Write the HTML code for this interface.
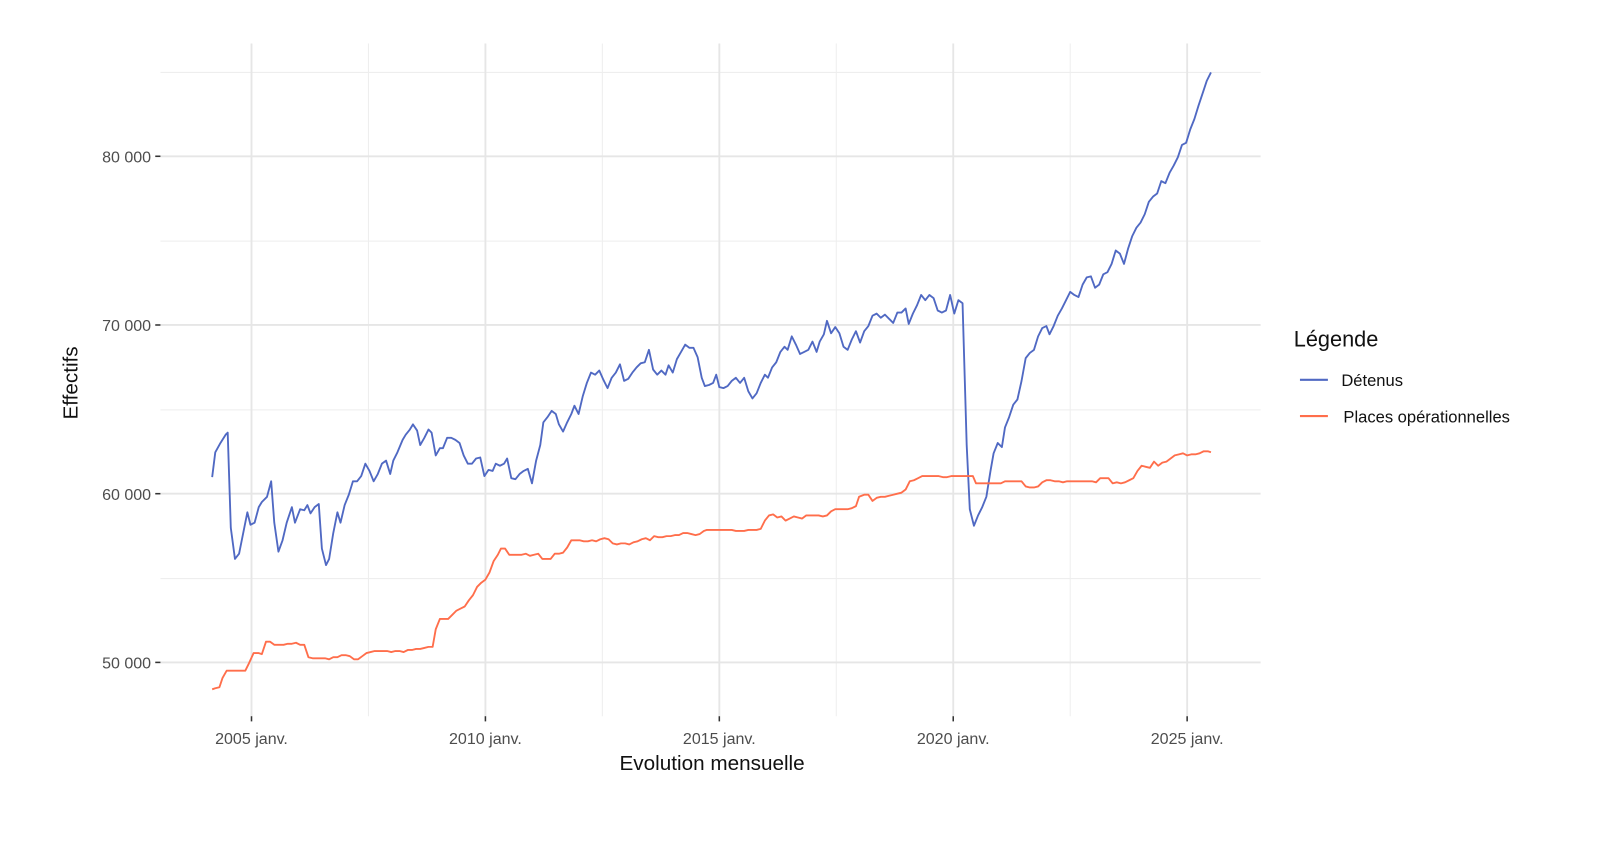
<!DOCTYPE html>
<html><head><meta charset="utf-8"><style>
html,body{margin:0;padding:0;background:#fff;}
svg{display:block;font-family:"Liberation Sans",sans-serif;}
</style></head><body>
<svg width="1622" height="857" viewBox="0 0 1622 857" xmlns="http://www.w3.org/2000/svg">
<g transform="scale(1.035,1.035)">
<g stroke="#eeeeee" stroke-width="1">
<line x1="155" x2="1218" y1="70" y2="70"/><line x1="155" x2="1218" y1="233" y2="233"/>
<line x1="155" x2="1218" y1="396" y2="396"/><line x1="155" x2="1218" y1="559" y2="559"/>
<line x1="356" x2="356" y1="42" y2="692"/><line x1="582" x2="582" y1="42" y2="692"/>
<line x1="808" x2="808" y1="42" y2="692"/><line x1="1034" x2="1034" y1="42" y2="692"/>
</g>
<g stroke="#e6e6e6" stroke-width="1.8">
<line x1="155" x2="1218" y1="151" y2="151"/><line x1="155" x2="1218" y1="314" y2="314"/>
<line x1="155" x2="1218" y1="477" y2="477"/><line x1="155" x2="1218" y1="640" y2="640"/>
<line x1="243" x2="243" y1="42" y2="692"/><line x1="469" x2="469" y1="42" y2="692"/>
<line x1="695" x2="695" y1="42" y2="692"/><line x1="921" x2="921" y1="42" y2="692"/>
<line x1="1147" x2="1147" y1="42" y2="692"/>
</g>
<g stroke="#333" stroke-width="1.5">
<line x1="150" x2="155" y1="151" y2="151"/><line x1="150" x2="155" y1="314" y2="314"/>
<line x1="150" x2="155" y1="477" y2="477"/><line x1="150" x2="155" y1="640" y2="640"/>
<line x1="243" x2="243" y1="692" y2="697"/><line x1="469" x2="469" y1="692" y2="697"/>
<line x1="695" x2="695" y1="692" y2="697"/><line x1="921" x2="921" y1="692" y2="697"/>
<line x1="1147" x2="1147" y1="692" y2="697"/>
</g>
<g fill="#4d4d4d" font-size="15.5" text-anchor="end">
<text x="146" y="157">80 000</text><text x="146" y="320">70 000</text>
<text x="146" y="483">60 000</text><text x="146" y="646">50 000</text>
</g>
<g fill="#4d4d4d" font-size="15.5" text-anchor="middle">
<text x="243" y="719">2005 janv.</text><text x="469" y="719">2010 janv.</text>
<text x="695" y="719">2015 janv.</text><text x="921" y="719">2020 janv.</text>
<text x="1147" y="719">2025 janv.</text>
</g>
<text x="688" y="744" font-size="20" text-anchor="middle" fill="#111">Evolution mensuelle</text>
<text transform="translate(75,370) rotate(-90)" font-size="20" text-anchor="middle" fill="#111">Effectifs</text>
<text x="1250" y="335" font-size="21" fill="#111">Légende</text>
<line x1="1256" x2="1283" y1="367" y2="367" stroke="#5069c3" stroke-width="2"/>
<text x="1296" y="373" font-size="16" fill="#111">Détenus</text>
<line x1="1256" x2="1283" y1="402" y2="402" stroke="#ff6e4b" stroke-width="2"/>
<text x="1298" y="408" font-size="16" fill="#111">Places opérationnelles</text>
<polyline fill="none" stroke="#5069c3" stroke-width="1.8" stroke-linejoin="round" points="205,461 208,437 213,428 218,420 220,418 223,510 227,540 231,535 236,510 239,495 242,507 246,505 250,490 253,485 258,480 262,465 265,505 269,533 273,522 277,505 282,490 285,505 290,492 294,493 297,488 300,496 304,490 308,487 311,530 315,546 318,540 322,515 326,495 329,505 333,488 337,478 341,465 345,465 349,460 353,448 357,455 361,465 365,458 369,448 373,445 377,458 380,445 384,437 389,425 392,420 396,415 399,410 403,416 406,430 410,423 414,415 417,418 421,440 425,433 428,433 432,423 436,423 440,425 444,428 448,440 452,448 456,448 460,443 464,442 468,460 472,454 476,455 479,448 483,450 487,448 490,443 494,462 498,463 502,458 506,455 510,453 514,467 518,445 522,430 525,408 529,403 533,397 537,400 540,410 544,417 548,408 552,400 555,392 559,400 563,383 567,370 571,360 575,362 579,358 583,367 587,375 591,365 595,360 599,352 603,368 607,366 611,360 615,355 619,351 623,350 627,338 631,357 635,362 639,358 643,362 646,353 650,360 654,347 658,340 662,333 666,336 670,336 674,345 678,365 681,373 685,372 689,370 692,362 695,374 699,375 703,373 707,368 711,365 715,370 719,365 723,378 727,385 731,380 735,370 739,362 742,365 746,355 750,350 754,340 758,335 761,338 765,325 769,333 773,342 777,340 781,338 785,330 789,340 792,330 796,323 799,310 803,322 807,316 811,322 815,335 819,338 823,328 827,320 831,331 835,320 839,315 843,305 847,303 851,307 855,304 859,308 863,312 867,302 871,302 875,298 878,313 882,303 886,295 890,285 894,290 898,285 902,288 906,300 910,302 914,300 918,285 922,303 926,290 930,293 934,430 937,492 941,508 945,498 949,490 953,480 957,455 960,438 964,428 968,432 971,413 975,403 979,391 983,386 987,368 991,346 995,341 999,338 1003,325 1007,317 1011,315 1014,323 1018,315 1022,305 1026,298 1030,290 1034,282 1038,285 1042,287 1046,275 1050,268 1054,267 1058,278 1062,275 1066,265 1070,263 1074,255 1078,242 1082,245 1086,255 1090,240 1094,228 1098,220 1102,215 1106,207 1110,195 1114,190 1118,187 1122,175 1126,177 1130,167 1134,160 1138,152 1142,140 1146,138 1150,125 1154,115 1158,102 1162,90 1166,78 1170,70"/>
<polyline fill="none" stroke="#ff6e4b" stroke-width="1.8" stroke-linejoin="round" points="205,666 208,665 212,664 215,655 219,648 224,648 228,648 232,648 237,648 240,642 245,631 250,631 253,632 257,620 261,620 265,623 270,623 274,623 278,622 282,622 286,621 290,623 294,623 298,635 302,636 306,636 310,636 314,636 318,637 322,635 326,635 330,633 334,633 338,634 342,637 346,637 350,634 354,631 358,630 362,629 366,629 370,629 374,629 378,630 382,629 386,629 390,630 394,628 398,628 402,627 406,627 410,626 414,625 418,625 421,608 425,598 429,598 433,598 437,594 441,590 445,588 449,586 453,580 457,575 461,567 465,563 469,560 473,553 477,542 481,536 484,530 488,530 492,536 496,536 500,536 504,536 508,535 512,537 516,536 520,535 524,540 528,540 532,540 536,535 540,535 544,534 548,529 552,522 556,522 560,522 564,523 568,523 572,522 576,523 580,521 584,520 588,521 592,525 596,526 600,525 604,525 608,526 612,524 616,523 620,521 624,520 628,522 632,518 636,519 640,519 644,518 648,518 652,517 656,517 660,515 664,515 668,516 672,517 676,516 680,513 683,512 687,512 691,512 695,512 699,512 703,512 707,512 711,513 715,513 719,513 723,512 727,512 731,512 735,511 739,503 743,498 747,497 751,500 755,499 759,503 763,501 767,499 771,500 775,501 779,498 783,498 787,498 791,498 795,499 799,498 803,494 807,492 811,492 815,492 819,492 823,491 827,489 830,480 835,478 839,478 843,484 847,481 851,480 855,480 859,479 863,478 867,477 871,476 875,473 879,465 883,464 887,462 891,460 895,460 899,460 903,460 907,460 911,461 915,461 919,460 923,460 927,460 931,460 935,460 940,460 943,467 947,467 951,467 955,467 959,467 963,467 967,467 971,465 975,465 979,465 983,465 987,465 991,470 995,471 999,471 1003,470 1007,466 1011,464 1015,464 1019,465 1023,465 1027,466 1031,465 1035,465 1039,465 1043,465 1047,465 1051,465 1055,465 1059,466 1063,462 1067,462 1071,462 1075,467 1079,466 1083,467 1087,466 1091,464 1095,462 1099,455 1103,450 1107,451 1111,452 1115,446 1119,450 1123,447 1127,446 1131,443 1135,440 1139,439 1143,438 1147,440 1151,439 1155,439 1159,438 1163,436 1167,436 1170,437"/>
</g>
</svg>
</body></html>
